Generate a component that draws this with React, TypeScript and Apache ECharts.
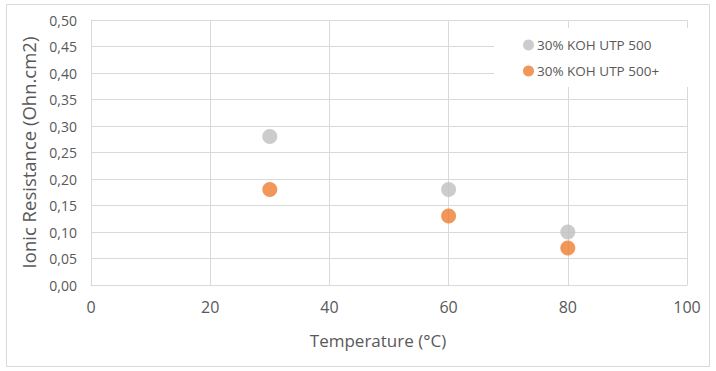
import React, { useEffect, useRef } from "react";
import * as echarts from "echarts";

const seriesNames = ["30% KOH UTP 500", "30% KOH UTP 500+"];
const temps = [30, 60, 80];
const utp500 = [0.28, 0.18, 0.1];
const utp500plus = [0.18, 0.13, 0.07];
const colors = ["#BFBFBF", "#ED7D31"];

export default function App() {
  const ref = useRef<HTMLDivElement>(null);
  useEffect(() => {
    const chart = echarts.init(ref.current!, null, { renderer: "svg" });
    const font = "'Open Sans', 'Noto Sans', sans-serif";
    chart.setOption({
      animation: false,
      backgroundColor: "#ffffff",
      textStyle: { fontFamily: font },
      graphic: [
        {
          type: "rect",
          shape: { x: 6.5, y: 4.5, width: 703, height: 362 },
          style: { fill: "none", stroke: "#D9D9D9", lineWidth: 1 },
          z: 0,
        },
      ],
      grid: { left: 91, right: 29, top: 20, bottom: 86 },
      legend: {
        orient: "vertical",
        left: 494,
        top: 28,
        padding: [10, 33, 9, 29],
        backgroundColor: "#ffffff",
        itemWidth: 11,
        itemHeight: 11,
        itemGap: 12,
        icon: "circle",
        textStyle: { color: "#595959", fontSize: 13.5, fontFamily: font, padding: [0, 0, 0, -2] },
        data: seriesNames,
        z: 10,
      },
      xAxis: {
        type: "value",
        min: 0,
        max: 100,
        interval: 20,
        name: "Temperature (°C)",
        nameLocation: "middle",
        nameGap: 47,
        nameTextStyle: { color: "#595959", fontSize: 17, fontFamily: font, padding: [0, 22, 0, 0] },
        axisLine: { show: true, lineStyle: { color: "#D9D9D9" } },
        axisTick: { show: false },
        axisLabel: { color: "#595959", fontSize: 16, margin: 14, fontFamily: font },
        splitLine: { show: true, lineStyle: { color: "#D9D9D9" } },
      },
      yAxis: {
        type: "value",
        min: 0,
        max: 0.5,
        interval: 0.05,
        name: "Ionic Resistance (Ohn.cm2)",
        nameLocation: "middle",
        nameGap: 50,
        nameTextStyle: { color: "#595959", fontSize: 18.5, fontFamily: font },
        axisLine: { show: true, lineStyle: { color: "#D9D9D9" } },
        axisTick: { show: false },
        axisLabel: {
          color: "#595959",
          fontSize: 14,
          margin: 14,
          fontFamily: font,
          formatter: (v: number) => v.toFixed(2).replace(".", ","),
        },
        splitLine: { show: true, lineStyle: { color: "#D9D9D9" } },
      },
      series: [
        {
          name: seriesNames[0],
          type: "scatter",
          symbolSize: 15,
          itemStyle: { color: colors[0] },
          data: temps.map((t, i) => [t, utp500[i]]),
        },
        {
          name: seriesNames[1],
          type: "scatter",
          symbolSize: 15,
          itemStyle: { color: colors[1] },
          data: temps.map((t, i) => [t, utp500plus[i]]),
        },
      ],
    });
    return () => chart.dispose();
  }, []);
  return (
    <div
      ref={ref}
      style={{ position: "fixed", left: 0, top: 0, width: 716, height: 371 }}
    />
  );
}
